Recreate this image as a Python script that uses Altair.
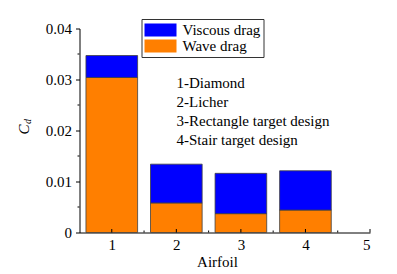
import altair as alt
import pandas as pd

airfoil = [1, 2, 3, 4]
wave = [0.0304, 0.0058, 0.0037, 0.0044]
viscous = [0.0043, 0.0076, 0.0079, 0.0077]
series = ["Viscous drag", "Wave drag"]
colors = ["#0000ff", "#ff7f00"]
notes = ["1-Diamond", "2-Licher", "3-Rectangle target design", "4-Stair target design"]
x_ticks = [1, 2, 3, 4, 5]
x_minor = [1.5, 2.5, 3.5, 4.5]
y_ticks = [0, 0.01, 0.02, 0.03, 0.04]
y_minor = [0.005, 0.015, 0.025, 0.035]

FONT = "'Liberation Serif', 'Times New Roman', Times, serif"

rows = []
for a, w, v in zip(airfoil, wave, viscous):
    rows.append({"airfoil": a, "series": "Wave drag", "lo": 0.0, "hi": w})
    rows.append({"airfoil": a, "series": "Viscous drag", "lo": w, "hi": w + v})
df = pd.DataFrame(rows)

xscale = alt.Scale(domain=[0.5, 5], nice=False, zero=False)
yscale = alt.Scale(domain=[0, 0.04], nice=False)

bars = alt.Chart(df).transform_calculate(
    x0="datum.airfoil - 0.4", x1="datum.airfoil + 0.4"
).mark_rect(stroke="#404040", strokeWidth=0.8).encode(
    x=alt.X("x0:Q", scale=xscale,
            axis=alt.Axis(values=x_ticks, ticks=False, labelPadding=5, format="d",
                          title="Airfoil", titleX=137.5, titleY=29,
                          titleBaseline="middle", titleAlign="center",
                          grid=False, domainColor="black")),
    x2="x1:Q",
    y=alt.Y("lo:Q", scale=yscale,
            axis=alt.Axis(values=y_ticks, tickSize=4, labelPadding=4, title=None,
                          labelExpr="datum.value == 0 ? '0' : format(datum.value, '.2f')",
                          grid=False, domainColor="black", tickColor="black")),
    y2="hi:Q",
    color=alt.Color("series:N", scale=alt.Scale(domain=series, range=colors),
                    legend=alt.Legend(title=None, orient="none", legendX=62, legendY=-9.5,
                                      strokeColor="#333", padding=3,
                                      symbolType="M-1,-0.8H3V0.8H-1Z", symbolSize=256,
                                      symbolStrokeWidth=0, symbolOpacity=1,
                                      labelFont=FONT, labelFontSize=15,
                                      labelColor="black", labelOffset=22, rowPadding=0)),
)

xt = alt.Chart(pd.DataFrame({"t": x_ticks})).mark_rule(color="black", strokeWidth=1).encode(
    x=alt.X("t:Q", scale=xscale), y=alt.value(204), y2=alt.value(200.5))
xm = alt.Chart(pd.DataFrame({"t": x_minor})).mark_rule(color="black", strokeWidth=1).encode(
    x=alt.X("t:Q", scale=xscale), y=alt.value(204), y2=alt.value(202))
ym = alt.Chart(pd.DataFrame({"t": y_minor})).mark_rule(color="black", strokeWidth=1).encode(
    y=alt.Y("t:Q", scale=yscale), x=alt.value(0), x2=alt.value(-2))

txt = alt.Chart(pd.DataFrame({"k": [0]})).mark_text(
    align="left", baseline="top", font=FONT, fontSize=15, lineHeight=19, color="black"
).encode(x=alt.value(97), y=alt.value(47), text=alt.value(notes))

cC = alt.Chart(pd.DataFrame({"k": [0]})).mark_text(
    font=FONT, fontSize=15, fontStyle="italic", angle=270, align="center",
    baseline="middle", color="black"
).encode(x=alt.value(-56), y=alt.value(101), text=alt.value("C"))
cd = alt.Chart(pd.DataFrame({"k": [0]})).mark_text(
    font=FONT, fontSize=10, fontStyle="italic", angle=270, align="center",
    baseline="middle", color="black"
).encode(x=alt.value(-51.5), y=alt.value(93), text=alt.value("d"))

chart = alt.layer(bars, xt, xm, ym, txt, cC, cd).properties(
    width=290.5, height=204, autosize=alt.AutoSizeParams(type="none"),
    padding={"left": 79.5, "top": 28.5, "right": 27, "bottom": 41},
    background="white"
).configure_view(stroke=None).configure_axis(
    labelFont=FONT, labelFontSize=15, labelColor="black",
    titleFont=FONT, titleFontSize=15, titleFontWeight="normal", titleColor="black",
    domainWidth=1
)

chart.save("out.html", embed_options={"renderer": "svg", "actions": False})
